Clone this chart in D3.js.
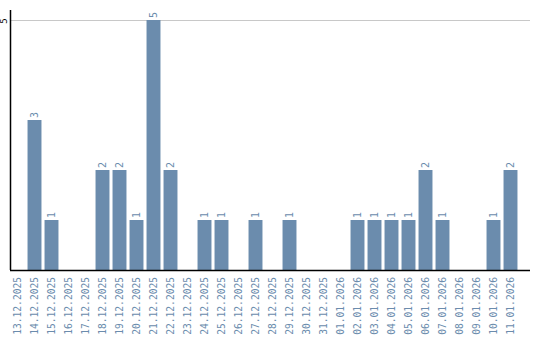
<!DOCTYPE html>
<html>
<head>
<meta charset="utf-8">
<script src="https://cdn.jsdelivr.net/npm/d3@7"></script>
<style>
body { margin: 0; background: #fff; }
</style>
</head>
<body>
<svg></svg>
<script>
var dates = ["13.12.2025","14.12.2025","15.12.2025","16.12.2025","17.12.2025","18.12.2025","19.12.2025",
    "20.12.2025","21.12.2025","22.12.2025","23.12.2025","24.12.2025","25.12.2025","26.12.2025",
    "27.12.2025","28.12.2025","29.12.2025","30.12.2025","31.12.2025","01.01.2026","02.01.2026",
    "03.01.2026","04.01.2026","05.01.2026","06.01.2026","07.01.2026","08.01.2026","09.01.2026",
    "10.01.2026","11.01.2026"];
var counts = [0,3,1,0,0,2,2,1,5,2,0,1,1,0,1,0,1,0,0,0,1,1,1,1,2,1,0,0,1,2];
var yTicks = [5];

var screen = {width: 540, height: 340};
var barColor = "#6b8cad";

var svg = d3.select("svg")
    .attr("width", screen.width)
    .attr("height", screen.height);

var xScale = d3.scaleBand()
    .domain(dates)
    .range([9, 519])
    .paddingInner(0.18)
    .paddingOuter(0.09);

var yScale = d3.scaleLinear()
    .domain([0, 5])
    .range([270, 20]);

var rows = dates.map(function(d, i){ return {date: d, count: counts[i]} });

// gridline
svg.selectAll(".grid")
    .data(yTicks)
    .enter()
    .append("line")
    .attr("x1", 10)
    .attr("x2", 530)
    .attr("y1", function(d){ return yScale(d) + 0.5 })
    .attr("y2", function(d){ return yScale(d) + 0.5 })
    .attr("stroke", "#c8c8c8")
    .attr("stroke-width", 1);

svg.selectAll(".bar")
    .data(rows)
    .enter()
    .append("rect")
    .attr("x", function(d){ return xScale(d.date) })
    .attr("width", xScale.bandwidth())
    .attr("y", function(d){ return yScale(d.count) })
    .attr("height", function(d){ return yScale(0) - yScale(d.count) })
    .attr("fill", barColor);

// value labels above bars
svg.selectAll(".val")
    .data(rows.filter(function(d){ return d.count > 0 }))
    .enter()
    .append("text")
    .attr("transform", function(d){
        var cx = xScale(d.date) + xScale.bandwidth() / 2;
        return "translate(" + (cx + 3.5) + "," + (yScale(d.count) - 2) + ") rotate(-90)";
    })
    .attr("font-family", "DejaVu Sans Mono")
    .attr("font-size", 10)
    .attr("fill", barColor)
    .text(function(d){ return d.count });

// axes
svg.append("line")
    .attr("x1", 10.5).attr("x2", 10.5)
    .attr("y1", 10).attr("y2", 270)
    .attr("stroke", "black").attr("stroke-width", 1.5);
svg.append("line")
    .attr("x1", 10).attr("x2", 530)
    .attr("y1", 270.5).attr("y2", 270.5)
    .attr("stroke", "black").attr("stroke-width", 1.5);

svg.selectAll(".ytick")
    .data(yTicks)
    .enter()
    .append("text")
    .attr("transform", function(d){ return "translate(7," + (yScale(d) + 1) + ") rotate(-90)" })
    .attr("text-anchor", "middle")
    .attr("font-family", "DejaVu Sans Mono")
    .attr("font-size", 9)
    .attr("fill", "black")
    .text(function(d){ return d });

svg.selectAll(".xlab")
    .data(dates)
    .enter()
    .append("text")
    .attr("transform", function(d){
        return "translate(" + (xScale(d) + xScale.bandwidth() / 2 + 3.5) + ",277) rotate(-90)";
    })
    .attr("text-anchor", "end")
    .attr("font-family", "DejaVu Sans Mono")
    .attr("font-size", 9.6)
    .attr("fill", barColor)
    .text(function(d){ return d });
</script>
</body>
</html>
